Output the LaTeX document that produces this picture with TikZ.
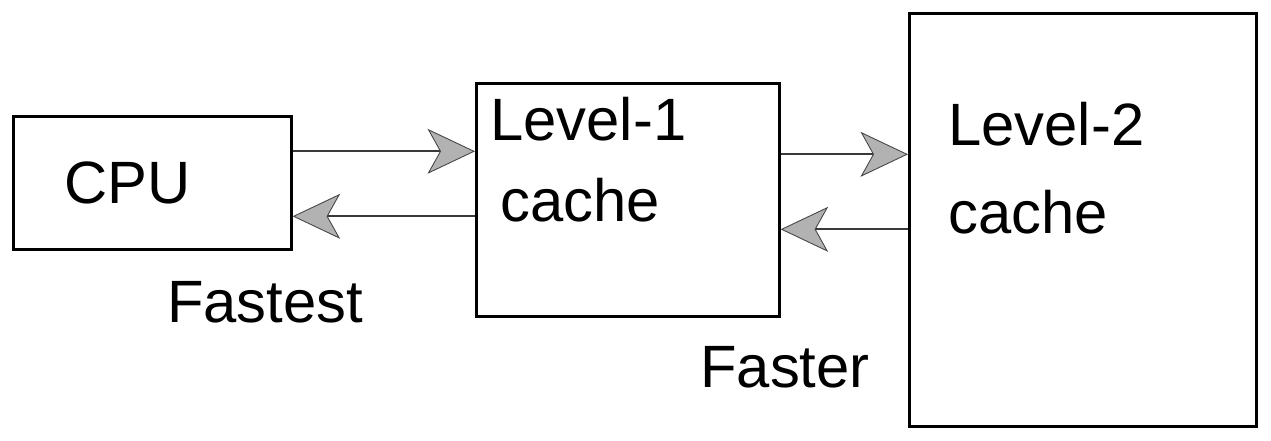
\documentclass[tikz,border=0pt]{standalone}
\usepackage{fontspec}
\setmainfont{Liberation Sans}
\usetikzlibrary{arrows.meta,positioning}

\begin{document}
\begin{tikzpicture}[
    font=\fontsize{34}{42}\selectfont,
    box/.style={draw, line width=1.5pt, minimum width=#1, anchor=north west,
      inner sep=0pt},
    txt/.style={align=left, inner sep=0pt, anchor=north west},
    arr/.style={-{Stealth[length=0.95cm, width=0.9cm, inset=0.25cm,
      fill=gray!60, color=gray!55!black, line width=0.5pt]},
      line width=1.3pt, draw=gray!45!black},
    lbl/.style={inner sep=0pt},
  ]
    \useasboundingbox[fill=white] (0,0) rectangle (25.42,8.8);

    % --- the three boxes ---
    \node[box=5.56cm, minimum height=2.66cm] (cpu) at (0.24,6.5) {};
    \node[box=6.06cm, minimum height=4.66cm] (lone) at (9.5,7.16) {};
    \node[box=6.94cm, minimum height=8.26cm] (ltwo) at (18.16,8.56) {};

    % box texts
    \node[lbl, left=0.5cm of cpu.center, anchor=center] (cpu-txt) {CPU};
    \node[txt, below right=0.3cm and 0.3cm of lone.north west] (lone-txt)
      {Level-1\\[4pt] \hspace{0.2cm}cache};
    \node[txt, below right=1.8cm and 0.8cm of ltwo.north west] (ltwo-txt)
      {Level-2\\[8pt] cache};

    % --- arrows ---
    \draw[arr] ([yshift=0.63cm]cpu.east) -- ([yshift=0.63cm]cpu.east -| lone.west);
    \draw[arr] ([yshift=-0.67cm]cpu.east -| lone.west) -- ([yshift=-0.67cm]cpu.east);
    \draw[arr] ([yshift=0.91cm]lone.east) -- ([yshift=0.91cm]lone.east -| ltwo.west);
    \draw[arr] ([yshift=-0.59cm]lone.east -| ltwo.west) -- ([yshift=-0.59cm]lone.east);

    % speed labels
    \node[lbl] (fastest) at (5.3,2.75) {Fastest};
    \node[lbl] (faster) at (15.7,1.45) {Faster};
\end{tikzpicture}
\end{document}
